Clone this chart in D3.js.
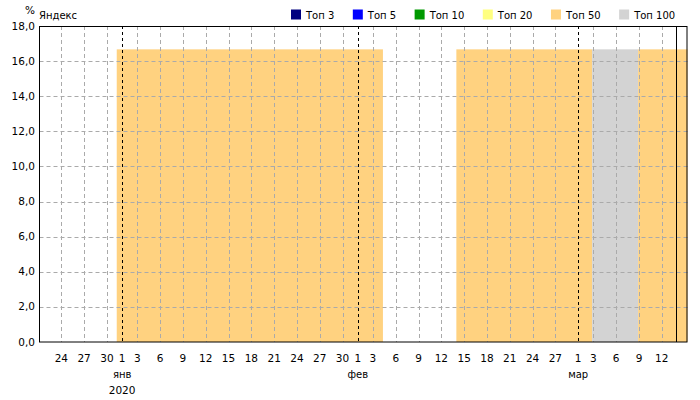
<!DOCTYPE html>
<html><head><meta charset="utf-8">
<script src="https://cdn.jsdelivr.net/npm/d3@7"></script>
<style>
html,body{margin:0;padding:0;background:#fff;}
svg{display:block;font-family:"DejaVu Sans",Verdana,sans-serif;}
</style></head><body>
<svg id="c" width="700" height="400"></svg>
<script>
// ---- data ----
const seriesNames = ["Топ 3","Топ 5","Топ 10","Топ 20","Топ 50","Топ 100"];
const seriesColors = ["#000080","#0000ff","#009900","#ffff80","#ffd280","#d3d3d3"];
const segStart = ["2019-12-31T07:00Z","2020-02-13T23:20Z","2020-03-02T20:00Z","2020-03-08T21:20Z"];
const segEnd   = ["2020-02-04T07:30Z","2020-03-02T20:00Z","2020-03-08T21:20Z","2020-03-16T00:00Z"];
const segSeries = ["Топ 50","Топ 50","Топ 100","Топ 50"];
const segValue = [16.67,16.67,16.67,16.67];
const xDomain = ["2019-12-21T03:07Z","2020-03-15T09:10Z"];
const tickDates = ["2019-12-24","2019-12-27","2019-12-30","2020-01-01","2020-01-03","2020-01-06","2020-01-09","2020-01-12","2020-01-15","2020-01-18","2020-01-21","2020-01-24","2020-01-27","2020-01-30","2020-02-01","2020-02-03","2020-02-06","2020-02-09","2020-02-12","2020-02-15","2020-02-18","2020-02-21","2020-02-24","2020-02-27","2020-03-01","2020-03-03","2020-03-06","2020-03-09","2020-03-12"];
const monthNames = ["янв","фев","мар"];
const yearLabel = "2020";
const yTicks = [0,2,4,6,8,10,12,14,16,18];
const nowDate = "2020-03-13T20:10Z";
const yTitle = "%";
const engineTitle = "Яндекс";

// ---- layout ----
const L = 39.5, R = 687.5, T = 26, B = 342;
const svg = d3.select("#c");
const x = d3.scaleUtc().domain(xDomain.map(d=>new Date(d))).range([L,R]);
const y = d3.scaleLinear().domain([0,18]).range([B,T]);
const color = d3.scaleOrdinal().domain(seriesNames).range(seriesColors);

svg.append("clipPath").attr("id","clip").append("rect")
  .attr("x",L).attr("y",T).attr("width",R-L).attr("height",B-T);

const segs = segStart.map((s,i)=>({s:new Date(s),e:new Date(segEnd[i]),k:segSeries[i],v:segValue[i]}));
svg.append("g").attr("clip-path","url(#clip)").selectAll("rect").data(segs).join("rect")
  .attr("x",d=>x(d.s)).attr("width",d=>x(d.e)-x(d.s))
  .attr("y",d=>y(d.v)).attr("height",d=>y(0)-y(d.v))
  .attr("fill",d=>color(d.k));

// horizontal grid
svg.append("g").selectAll("line").data(yTicks.filter(v=>v>0&&v<18)).join("line")
  .attr("x1",L).attr("x2",R).attr("y1",d=>Math.round(y(d))+0.5).attr("y2",d=>Math.round(y(d))+0.5)
  .attr("stroke","#aaaaaa").attr("stroke-dasharray","4,3");

// vertical grid
const ticks = tickDates.map(d=>new Date(d+"T00:00Z"));
svg.append("g").selectAll("line").data(ticks).join("line")
  .attr("x1",d=>Math.round(x(d))+0.5).attr("x2",d=>Math.round(x(d))+0.5)
  .attr("y1",T).attr("y2",B)
  .attr("stroke",d=>d.getUTCDate()===1?"#000":"#aaaaaa")
  .attr("stroke-dasharray",d=>d.getUTCDate()===1?"3,3":"4,3");

// now line
svg.append("line").attr("x1",Math.round(x(new Date(nowDate)))+0.5).attr("x2",Math.round(x(new Date(nowDate)))+0.5)
  .attr("y1",T).attr("y2",B).attr("stroke","#000");

// frame
svg.append("rect").attr("x",L).attr("y",T+0.5).attr("width",R-L-0.5).attr("height",B-T-0.5)
  .attr("fill","none").attr("stroke","#000");

// y labels
const fmt = v=>d3.format(".1f")(v).replace(".",",");
svg.append("g").selectAll("text").data(yTicks).join("text")
  .attr("x",35).attr("y",d=>y(d)+3.5).attr("text-anchor","end")
  .attr("font-size","10.5px").attr("fill","#000").text(fmt);

// x labels
svg.append("g").selectAll("text").data(ticks).join("text")
  .attr("x",d=>x(d)).attr("y",362).attr("text-anchor","middle")
  .attr("font-size","10.5px").attr("fill","#000").text(d=>d.getUTCDate());
const months = ticks.filter(d=>d.getUTCDate()===1);
svg.append("g").selectAll("text").data(months).join("text")
  .attr("x",d=>x(d)).attr("y",377.5).attr("text-anchor","middle")
  .attr("font-size","10px").attr("fill","#000").text((d,i)=>monthNames[i]);
svg.append("text").attr("x",x(months[0])).attr("y",394).attr("text-anchor","middle")
  .attr("font-size","10.5px").attr("fill","#000").text(yearLabel);

// titles
svg.append("text").attr("x",25).attr("y",14).attr("font-size","10.5px").attr("fill","#000").text(yTitle);
svg.append("text").attr("x",39).attr("y",18.5).attr("font-size","10px").attr("fill","#000").text(engineTitle);

// legend
let lx = 291;
seriesNames.forEach((n,i)=>{
  svg.append("rect").attr("x",lx).attr("y",9.5).attr("width",10).attr("height",10).attr("fill",seriesColors[i]);
  const t = svg.append("text").attr("x",lx+15).attr("y",18.5).attr("font-size","10px").attr("fill","#000").text(n);
  lx += 15 + t.node().getComputedTextLength() + 18.5;
});
</script></body></html>
